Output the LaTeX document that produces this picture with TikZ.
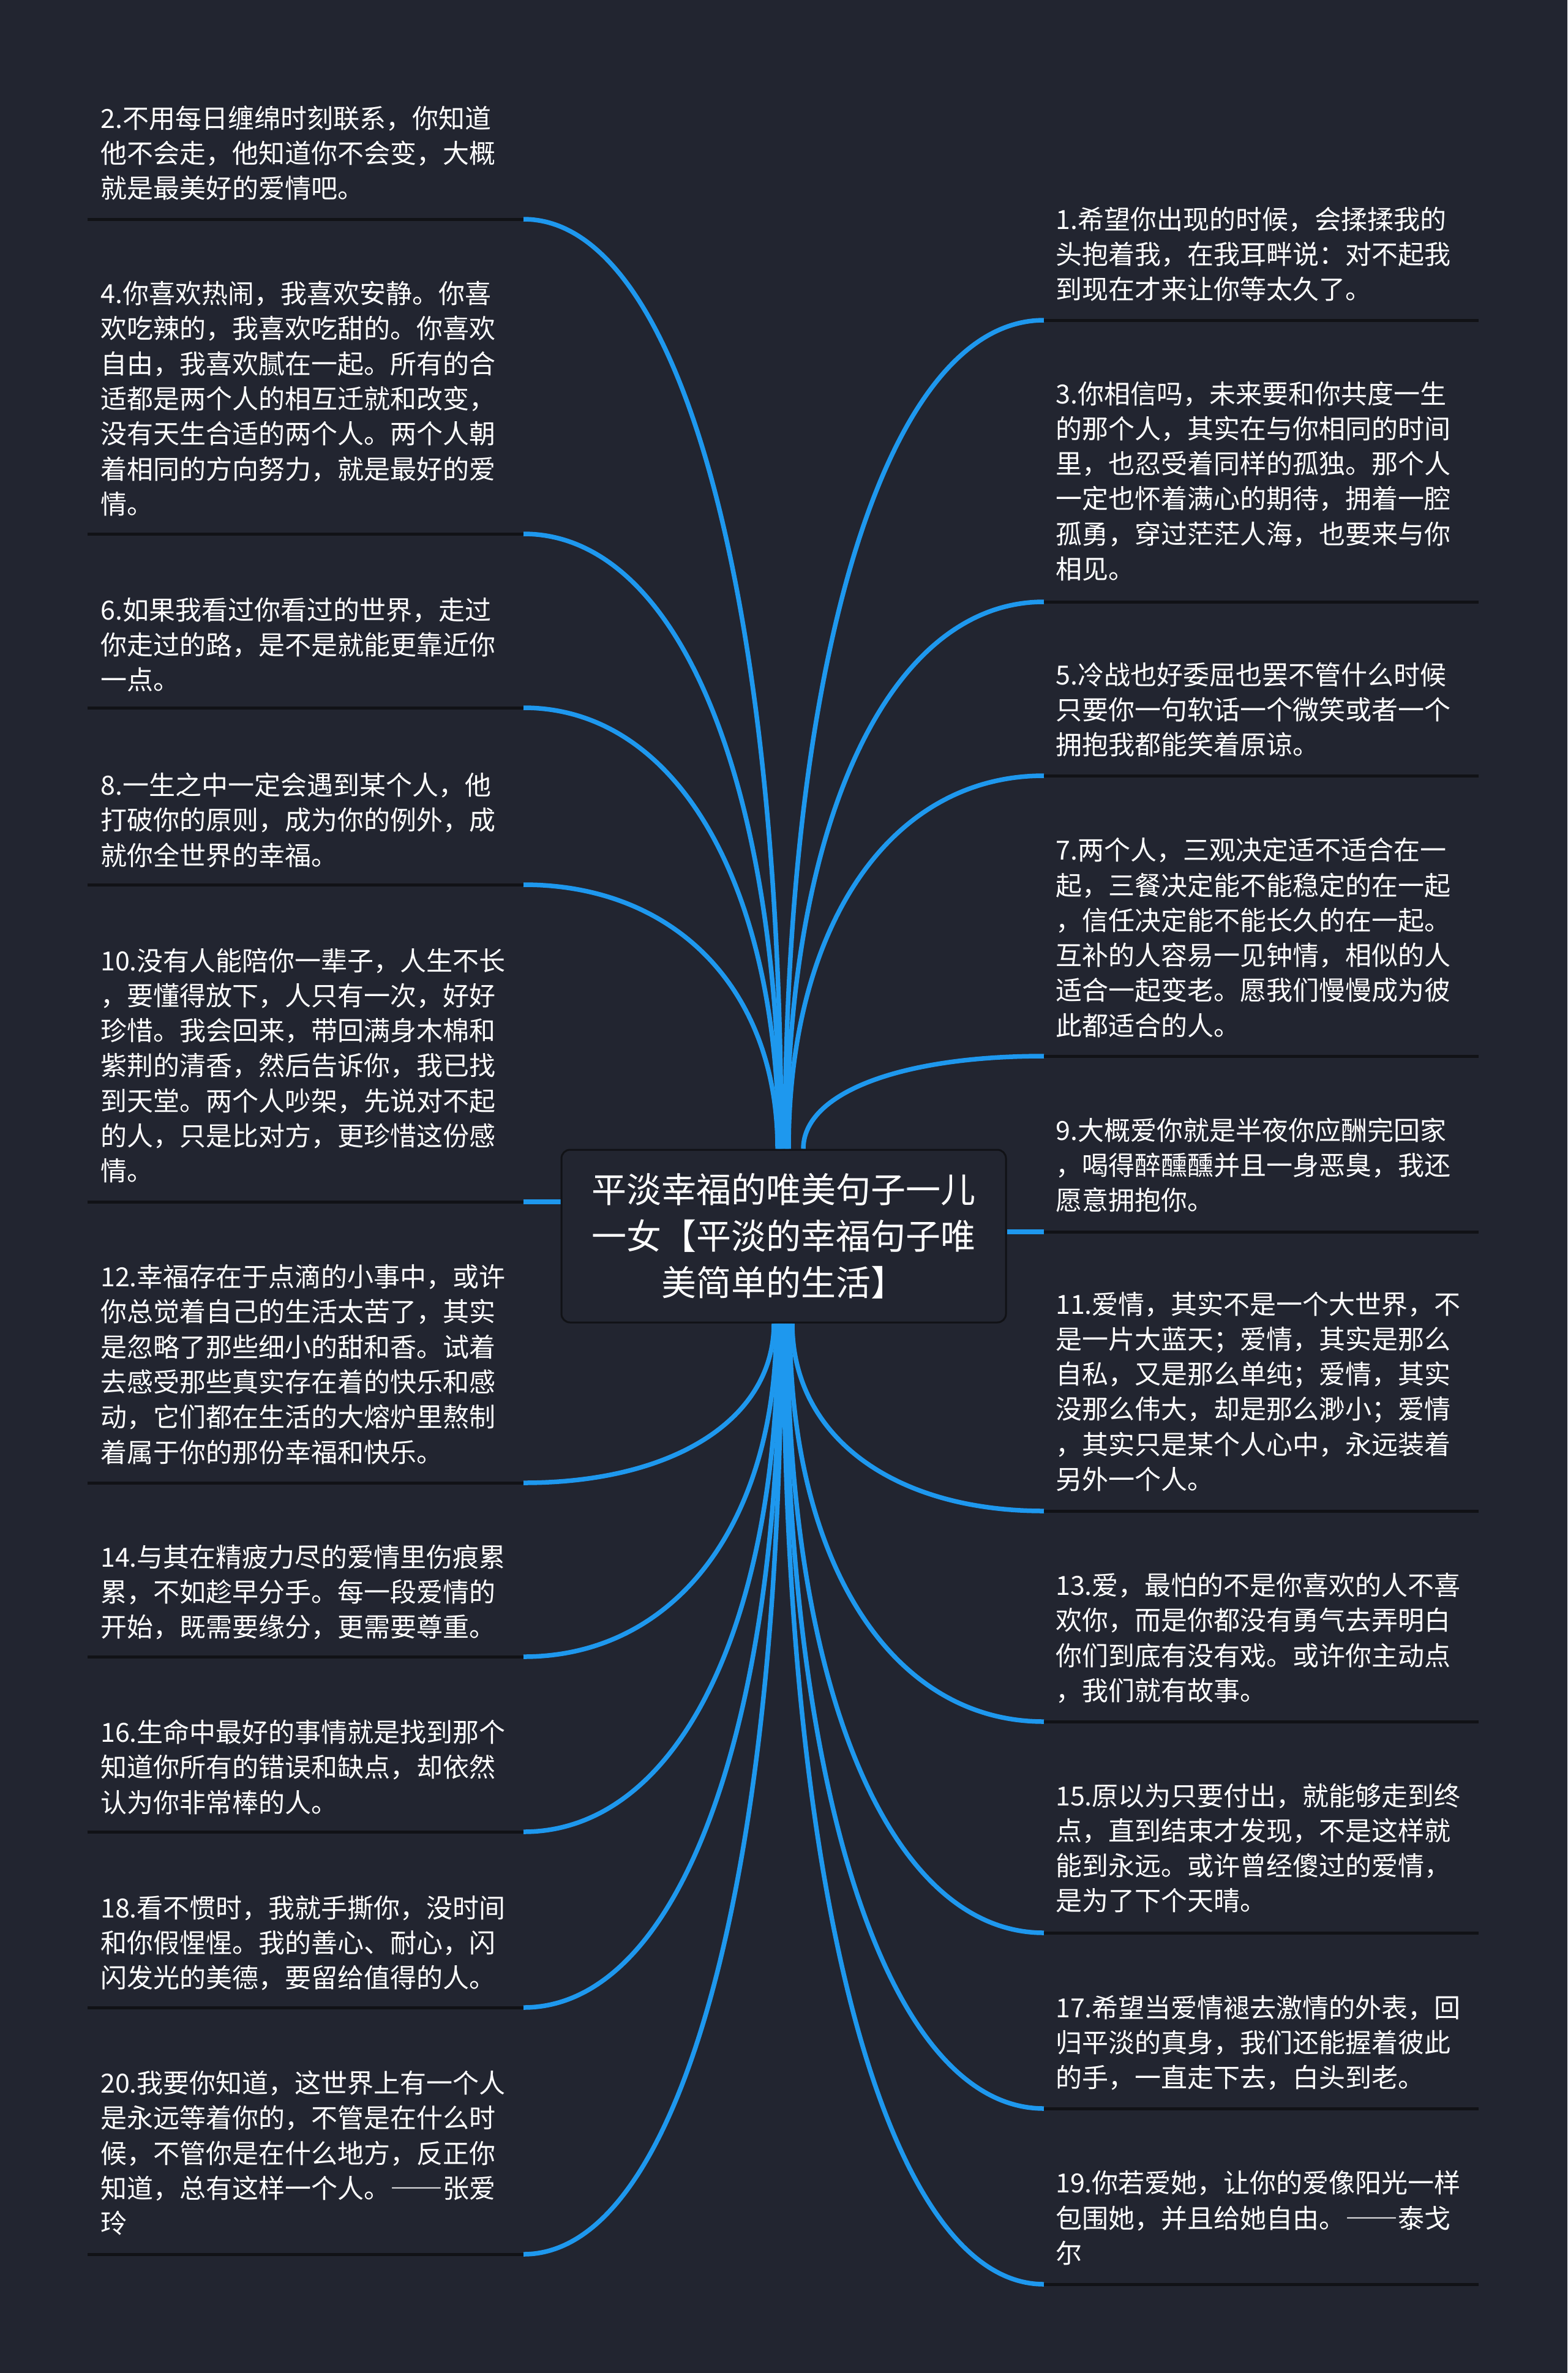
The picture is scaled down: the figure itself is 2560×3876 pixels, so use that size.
\documentclass[tikz,border=0pt]{standalone}
\usepackage{fontspec}
\newfontfamily\cjk{Noto Sans CJK SC}
\usetikzlibrary{calc}
\pgfdeclarelayer{bg}
\pgfsetlayers{bg,main}
\definecolor{bgc}{HTML}{222530}
\definecolor{linkc}{HTML}{1E98EE}
\definecolor{ulc}{HTML}{111216}
\newcommand\fwdash{{\addfontfeature{RawFeature=+fwid}——}}
\tikzset{
  leaf/.style={font=\cjk\fontsize{43}{57.3}\selectfont, text=white, inner sep=0pt,
    text width=720pt, align=left, anchor=base west},
  titlebox/.style={font=\cjk\fontsize{57}{76}\selectfont, text=white, align=center,
    draw=ulc, line width=3pt, fill=bgc, rounded corners=14pt, inner sep=0pt,
    minimum width=726pt, minimum height=282pt},
  conn/.style={draw=linkc, line width=7.5pt},
  uline/.style={draw=ulc, line width=5pt}
}
\newcommand\leafL[4]{%
  \node[leaf] (#1) at (164,#2) {#4};
  \coordinate (#1a) at (143,#3);
  \coordinate (#1b) at (855,#3);
  \draw[uline] (#1a) -- (#1b);}
\newcommand\leafR[4]{%
  \node[leaf] (#1) at (1724,#2) {#4};
  \coordinate (#1b) at (1705,#3);
  \coordinate (#1a) at (2415,#3);
  \draw[uline] (#1b) -- (#1a);}
\newcommand\mmlink[2]{%
  \draw[conn] (#1) .. controls ($(#1)!0.6!(#1|-#2)$) and ($(#2)!0.6!(#1|-#2)$) .. (#2);}
\begin{document}
\begin{tikzpicture}[x=1pt,y=-1pt]
\useasboundingbox (0,0) rectangle (2560,3876);
\begin{pgfonlayer}{bg}
\fill[bgc] (0,0) rectangle (2560,3876);
\end{pgfonlayer}

\node[titlebox] (t) at (1280,2019) {平淡幸福的唯美句子一儿\\一女【平淡的幸福句子唯\\美简单的生活】};

% left leaves
\leafL{l2}{209}{358}{2.不用每日缠绵时刻联系，你知道\\他不会走，他知道你不会变，大概\\就是最美好的爱情吧。}
\leafL{l4}{495.5}{872}{4.你喜欢热闹，我喜欢安静。你喜\\欢吃辣的，我喜欢吃甜的。你喜欢\\自由，我喜欢腻在一起。所有的合\\适都是两个人的相互迁就和改变，\\没有天生合适的两个人。两个人朝\\着相同的方向努力，就是最好的爱\\情。}
\leafL{l6}{1012}{1156}{6.如果我看过你看过的世界，走过\\你走过的路，是不是就能更靠近你\\一点。}
\leafL{l8}{1298.5}{1445}{8.一生之中一定会遇到某个人，他\\打破你的原则，成为你的例外，成\\就你全世界的幸福。}
\leafL{l10}{1585}{1963}{10.没有人能陪你一辈子，人生不长\\，要懂得放下，人只有一次，好好\\珍惜。我会回来，带回满身木棉和\\紫荆的清香，然后告诉你，我已找\\到天堂。两个人吵架，先说对不起\\的人，只是比对方，更珍惜这份感\\情。}
\leafL{l12}{2101.5}{2422}{12.幸福存在于点滴的小事中，或许\\你总觉着自己的生活太苦了，其实\\是忽略了那些细小的甜和香。试着\\去感受那些真实存在着的快乐和感\\动，它们都在生活的大熔炉里熬制\\着属于你的那份幸福和快乐。}
\leafL{l14}{2559}{2706}{14.与其在精疲力尽的爱情里伤痕累\\累，不如趁早分手。每一段爱情的\\开始，既需要缘分，更需要尊重。}
\leafL{l16}{2845.5}{2992}{16.生命中最好的事情就是找到那个\\知道你所有的错误和缺点，却依然\\认为你非常棒的人。}
\leafL{l18}{3132}{3279}{18.看不惯时，我就手撕你，没时间\\和你假惺惺。我的善心、耐心，闪\\闪发光的美德，要留给值得的人。}
\leafL{l20}{3418.5}{3682}{20.我要你知道，这世界上有一个人\\是永远等着你的，不管是在什么时\\候，不管你是在什么地方，反正你\\知道，总有这样一个人。\fwdash 张爱\\玲}

% right leaves
\leafR{r1}{374}{523}{1.希望你出现的时候，会揉揉我的\\头抱着我，在我耳畔说：对不起我\\到现在才来让你等太久了。}
\leafR{r3}{659}{983}{3.你相信吗，未来要和你共度一生\\的那个人，其实在与你相同的时间\\里，也忍受着同样的孤独。那个人\\一定也怀着满心的期待，拥着一腔\\孤勇，穿过茫茫人海，也要来与你\\相见。}
\leafR{r5}{1118}{1267}{5.冷战也好委屈也罢不管什么时候\\只要你一句软话一个微笑或者一个\\拥抱我都能笑着原谅。}
\leafR{r7}{1404.7}{1725}{7.两个人，三观决定适不适合在一\\起，三餐决定能不能稳定的在一起\\，信任决定能不能长久的在一起。\\互补的人容易一见钟情，相似的人\\适合一起变老。愿我们慢慢成为彼\\此都适合的人。}
\leafR{r9}{1862}{2012}{9.大概爱你就是半夜你应酬完回家\\，喝得醉醺醺并且一身恶臭，我还\\愿意拥抱你。}
\leafR{r11}{2146}{2468}{11.爱情，其实不是一个大世界，不\\是一片大蓝天；爱情，其实是那么\\自私，又是那么单纯；爱情，其实\\没那么伟大，却是那么渺小；爱情\\，其实只是某个人心中，永远装着\\另外一个人。}
\leafR{r13}{2605.6}{2812}{13.爱，最怕的不是你喜欢的人不喜\\欢你，而是你都没有勇气去弄明白\\你们到底有没有戏。或许你主动点\\，我们就有故事。}
\leafR{r15}{2949}{3157}{15.原以为只要付出，就能够走到终\\点，直到结束才发现，不是这样就\\能到永远。或许曾经傻过的爱情，\\是为了下个天晴。}
\leafR{r17}{3295}{3444}{17.希望当爱情褪去激情的外表，回\\归平淡的真身，我们还能握着彼此\\的手，一直走下去，白头到老。}
\leafR{r19}{3581.7}{3731}{19.你若爱她，让你的爱像阳光一样\\包围她，并且给她自由。\fwdash 泰戈\\尔}

% start points on the title box
\coordinate (s2) at ([xshift=-4pt]t.north);
\coordinate (s4) at ([xshift=-6pt]t.north);
\coordinate (s6) at ([xshift=-8pt]t.north);
\coordinate (s8) at ([xshift=-10pt]t.north);
\coordinate (s1) at ([xshift=2pt]t.north);
\coordinate (s3) at ([xshift=5pt]t.north);
\coordinate (s5) at ([xshift=8pt]t.north);
\coordinate (s7) at ([xshift=32pt]t.north);
\coordinate (s10) at (t.west |- l10b);
\coordinate (s9) at (t.east |- r9b);
\coordinate (s12) at ([xshift=-16pt]t.south);
\coordinate (s14) at ([xshift=-12pt]t.south);
\coordinate (s16) at ([xshift=-9pt]t.south);
\coordinate (s18) at ([xshift=-6pt]t.south);
\coordinate (s20) at ([xshift=-4pt]t.south);
\coordinate (s11) at ([xshift=14pt]t.south);
\coordinate (s13) at ([xshift=10pt]t.south);
\coordinate (s15) at ([xshift=6pt]t.south);
\coordinate (s17) at ([xshift=3pt]t.south);
\coordinate (s19) at ([xshift=0pt]t.south);

\begin{pgfonlayer}{bg}
\mmlink{s2}{l2b}
\mmlink{s4}{l4b}
\mmlink{s6}{l6b}
\mmlink{s8}{l8b}
\mmlink{s1}{r1b}
\mmlink{s3}{r3b}
\mmlink{s5}{r5b}
\mmlink{s7}{r7b}
\draw[conn] (s10) -- (l10b);
\draw[conn] (s9) -- (r9b);
\mmlink{s12}{l12b}
\mmlink{s14}{l14b}
\mmlink{s16}{l16b}
\mmlink{s18}{l18b}
\mmlink{s20}{l20b}
\mmlink{s11}{r11b}
\mmlink{s13}{r13b}
\mmlink{s15}{r15b}
\mmlink{s17}{r17b}
\mmlink{s19}{r19b}
\end{pgfonlayer}
\end{tikzpicture}
\end{document}
